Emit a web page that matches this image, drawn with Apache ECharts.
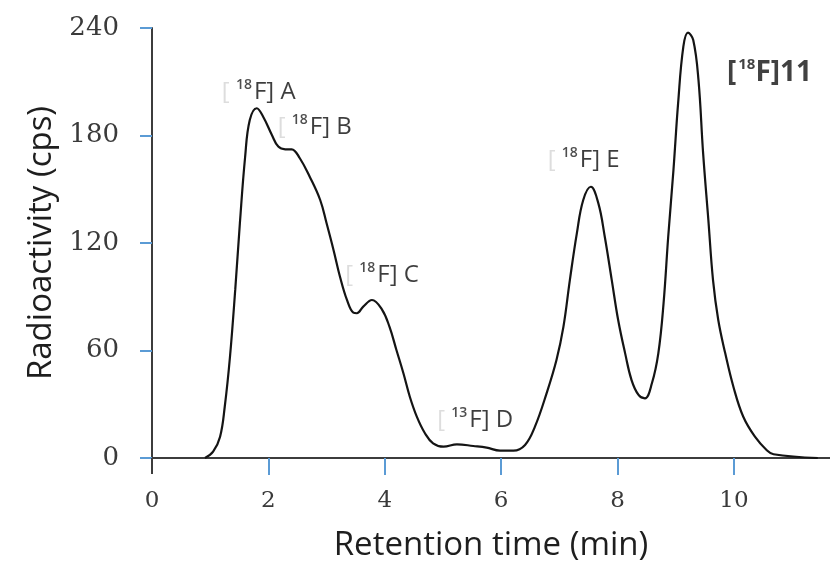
<!DOCTYPE html>
<html>
<head>
<meta charset="utf-8">
<style>
  html, body { margin: 0; padding: 0; background: #fff; }
  #chart { width: 830px; height: 568px; }
</style>
<script src="https://cdn.jsdelivr.net/npm/echarts@6/dist/echarts.min.js"></script>
</head>
<body>
<div id="chart"></div>
<script>
// Radio-HPLC trace: retention time (min) vs radioactivity (cps)
const retentionTime = [
  0.91, 1.05, 1.17, 1.25, 1.34, 1.43, 1.51, 1.60, 1.68, 1.80,
  1.91, 2.06, 2.17, 2.29, 2.40, 2.54, 2.71, 2.89, 3.00, 3.12,
  3.23, 3.35, 3.46, 3.52, 3.63, 3.78, 3.95, 4.08, 4.20, 4.32,
  4.43, 4.55, 4.69, 4.83, 5.01, 5.24, 5.52, 5.75, 5.98, 6.21,
  6.41, 6.58, 6.78, 6.95, 7.07, 7.18, 7.30, 7.41, 7.54, 7.67,
  7.78, 7.90, 8.01, 8.13, 8.24, 8.36, 8.47, 8.59, 8.70, 8.79,
  8.87, 8.96, 9.04, 9.13, 9.21, 9.30, 9.39, 9.47, 9.56, 9.64,
  9.73, 9.85, 9.99, 10.16, 10.36, 10.56, 10.68, 11.44
];
const radioactivity = [
  0, 3.5, 11.9, 28.6, 56.5, 93.8, 131, 168, 188.6, 195.2,
  190.5, 180.3, 173.8, 172.3, 172.3, 167.3, 157, 144, 131, 116,
  101.2, 88.2, 81.1, 80.8, 84.5, 88.2, 83, 73.3, 60.3, 47.3,
  34.2, 23.1, 13.8, 8.2, 6.3, 7.6, 6.7, 5.8, 4.1, 4.1,
  7.3, 17.5, 36.1, 54.7, 73.3, 99.3, 125.4, 144, 151.4, 142.1,
  123.5, 99.3, 77, 58.4, 43.5, 35.2, 33.3, 41.7, 58.4, 86.3,
  123.5, 160.7, 197.9, 229.6, 237.4, 233.3, 211, 170, 132.8, 99.3,
  77, 58.4, 39.8, 23, 11.9, 4.5, 2.1, 0
];

// Peak annotations: isotope mass number, suffix, anchor (time, cps)
const peakMass   = ['18', '18', '18', '13', '18', '18'];
const peakSuffix = ['A', 'B', 'C', 'D', 'E', '11'];
const peakAnchorX = [1.20, 2.16, 3.32, 4.90, 6.80, 9.88];
const peakAnchorY = [197.6, 178, 95.4, 14.5, 159.6, 207];

const xTicks = [2, 4, 6, 8, 10];
const yTickStep = 60;

const AXIS = '#3c3c3c';
const TICK = '#5b9bd5';
const TXT = '#1e1e1e';
const NUM = '#3a3a3a';

const chart = echarts.init(document.getElementById('chart'), null, { renderer: 'canvas' });

const labelData = peakSuffix.map((s, i) => ({
  value: [peakAnchorX[i], peakAnchorY[i]],
  mass: peakMass[i],
  suffix: s,
  main: s === '11'
}));

const grid = { left: 152, right: 0, top: 28, bottom: 110 };

chart.setOption({
  animation: false,
  backgroundColor: '#fff',
  grid: [grid, Object.assign({}, grid)],
  xAxis: [{
    type: 'value', gridIndex: 0, min: 0, max: 11.65,
    name: 'Retention time (min)', nameLocation: 'middle', nameGap: 71,
    nameTextStyle: { fontFamily: 'Open Sans', fontSize: 33, color: TXT },
    axisLine: { show: true, onZero: false, lineStyle: { color: AXIS, width: 2 } },
    axisTick: { show: true, customValues: xTicks, length: 17, lineStyle: { color: TICK, width: 2 } },
    axisLabel: { customValues: [0].concat(xTicks), margin: 32, fontFamily: 'DejaVu Serif', fontSize: 23, color: NUM },
    splitLine: { show: false }
  }, {
    // stub of the y-axis line below the origin
    type: 'value', gridIndex: 1, min: 0, max: 11.65,
    axisLine: { show: false },
    axisTick: { show: true, customValues: [0], length: 16, lineStyle: { color: AXIS, width: 2 } },
    axisLabel: { show: false },
    splitLine: { show: false }
  }],
  yAxis: [{
    type: 'value', gridIndex: 0, min: 0, max: 240, interval: yTickStep,
    name: 'Radioactivity (cps)', nameLocation: 'middle', nameGap: 90,
    nameTextStyle: { fontFamily: 'Open Sans', fontSize: 33, color: TXT },
    axisLine: { show: true, lineStyle: { color: AXIS, width: 2 } },
    axisTick: { show: true, length: 12, lineStyle: { color: TICK, width: 2 } },
    axisLabel: { margin: 33, fontFamily: 'DejaVu Serif', fontSize: 26, color: NUM },
    splitLine: { show: false }
  }, {
    type: 'value', gridIndex: 1, min: 0, max: 240, show: false
  }],
  series: [{
    type: 'line',
    name: 'trace',
    xAxisIndex: 0, yAxisIndex: 0,
    data: retentionTime.map((t, i) => [t, radioactivity[i]]),
    smooth: 0.4,
    showSymbol: false,
    lineStyle: { color: '#141414', width: 2.2 },
    z: 3
  }, {
    type: 'scatter',
    name: 'peaks',
    xAxisIndex: 0, yAxisIndex: 0,
    symbolSize: 0,
    data: labelData,
    silent: true,
    label: {
      show: true,
      position: [0, 0],
      align: 'left',
      verticalAlign: 'bottom',
      formatter: p => p.data.main
        ? '{bb|[}{bs|' + p.data.mass + '}{bt|F]' + p.data.suffix + '}'
        : '{b|[ }{s|' + p.data.mass + '}{t|F] ' + p.data.suffix + '}',
      rich: {
        b:  { fontFamily: 'Open Sans', fontSize: 24, lineHeight: 26, color: '#d4d4d4', verticalAlign: 'bottom', padding: [8, 0, 0, 0] },
        s:  { fontFamily: 'Open Sans', fontSize: 14, fontWeight: 600, lineHeight: 14, color: '#222', verticalAlign: 'top', padding: [0, 2, 0, 0] },
        t:  { fontFamily: 'Open Sans', fontSize: 24, lineHeight: 26, color: '#0d0d0d', verticalAlign: 'bottom', padding: [8, 0, 0, 0] },
        bb: { fontFamily: 'Open Sans', fontSize: 28, fontWeight: 'bold', lineHeight: 30, color: '#111', verticalAlign: 'bottom', padding: [17, 2, 0, 0] },
        bs: { fontFamily: 'Open Sans', fontSize: 15, fontWeight: 'bold', lineHeight: 16, color: '#111', verticalAlign: 'top' },
        bt: { fontFamily: 'Open Sans', fontSize: 28, fontWeight: 'bold', lineHeight: 30, color: '#111', verticalAlign: 'bottom', padding: [17, 0, 0, 0] }
      }
    },
    z: 5
  }]
});
</script>
</body>
</html>
